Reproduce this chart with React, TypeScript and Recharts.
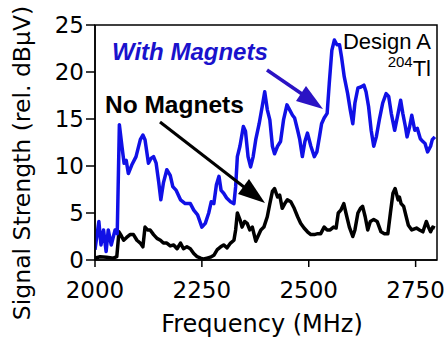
import React from 'react';
import { LineChart, Line, XAxis, YAxis, ReferenceArea } from 'recharts';

// "With Magnets" series (blue)
const withFreq = [
  2000, 2009, 2014, 2020, 2026, 2031, 2038, 2047, 2052, 2057, 2063, 2068, 2073, 2078, 2086, 2096,
  2106, 2112, 2117, 2125, 2131, 2137, 2143, 2149, 2154, 2160, 2168, 2176, 2182, 2190, 2200, 2211,
  2223, 2231, 2240, 2250, 2258, 2266, 2272, 2278, 2284, 2290, 2295, 2301, 2308, 2317, 2325, 2329,
  2333, 2339, 2347, 2352, 2358, 2364, 2370, 2376, 2384, 2391, 2397, 2403, 2409, 2415, 2420, 2427,
  2434, 2441, 2449, 2455, 2462, 2467, 2474, 2479, 2485, 2491, 2497, 2505, 2513, 2519, 2525, 2530,
  2536, 2543, 2548, 2554, 2560, 2566, 2572, 2577, 2583, 2591, 2597, 2603, 2608, 2615, 2622, 2629,
  2634, 2640, 2646, 2652, 2658, 2665, 2673, 2681, 2687, 2693, 2701, 2709, 2715, 2720, 2726, 2730,
  2736, 2741, 2748, 2754, 2761, 2767, 2772, 2778, 2785, 2789, 2795,
];
const withVals = [
  1.1, 4.1, 1.6, 3.2, 0.9, 3.2, 1.6, 3.2, 2.8, 14.4, 12.1, 10.3, 10.6, 9.2, 10.1, 11.0,
  12.8, 13.3, 12.8, 10.3, 10.8, 11.0, 10.3, 8.3, 6.4, 8.2, 9.6, 9.0, 7.8, 7.4, 6.4, 6.0,
  6.0, 5.3, 4.8, 3.5, 3.9, 5.0, 6.2, 6.0, 8.0, 8.9, 7.4, 7.1, 6.6, 6.2, 6.0, 7.8,
  11.0, 12.1, 14.2, 13.7, 11.0, 9.9, 11.0, 12.8, 14.5, 16.3, 17.9, 16.0, 14.9, 12.1, 11.3, 12.1,
  12.6, 14.9, 16.5, 16.0, 15.4, 15.1, 13.8, 12.8, 11.0, 12.6, 13.5, 12.1, 11.0, 11.5, 13.1, 14.5,
  15.1, 15.6, 18.8, 22.3, 23.4, 22.9, 22.9, 21.5, 19.5, 17.7, 16.0, 14.5, 16.7, 18.3, 18.4, 18.6,
  17.9, 16.3, 13.8, 12.1, 13.1, 14.9, 16.7, 17.7, 17.4, 15.6, 13.8, 15.6, 17.0, 15.6, 14.2, 13.1,
  14.2, 15.4, 13.8, 14.0, 12.9, 12.6, 12.4, 11.5, 12.1, 12.8, 13.1,
];

// "No Magnets" series (black)
const noFreq = [
  2000, 2012, 2027, 2043, 2051, 2056, 2060, 2067, 2074, 2082, 2090, 2098, 2106, 2112, 2117, 2123,
  2129, 2137, 2145, 2153, 2160, 2168, 2176, 2184, 2192, 2200, 2207, 2215, 2223, 2231, 2239, 2247,
  2254, 2262, 2270, 2278, 2286, 2294, 2301, 2309, 2317, 2325, 2329, 2333, 2339, 2344, 2350, 2356,
  2362, 2368, 2376, 2381, 2388, 2395, 2403, 2409, 2415, 2420, 2427, 2432, 2438, 2444, 2450, 2458,
  2466, 2474, 2481, 2489, 2497, 2505, 2513, 2521, 2528, 2536, 2543, 2550, 2558, 2564, 2569, 2575,
  2582, 2587, 2595, 2603, 2608, 2615, 2621, 2626, 2632, 2638, 2644, 2652, 2660, 2669, 2677, 2685,
  2691, 2697, 2702, 2709, 2712, 2716, 2722, 2728, 2733, 2741, 2752, 2759, 2767, 2775, 2780, 2785,
  2790, 2795,
];
const noVals = [
  0.2, 0.35, 0.3, 0.2, 0.35, 3.0, 2.7, 2.1, 2.4, 2.7, 2.7, 2.1, 1.8, 1.4, 3.5, 3.2,
  3.2, 2.7, 2.3, 2.1, 1.8, 1.8, 1.5, 1.6, 1.2, 1.8, 1.2, 1.4, 1.2, 0.7, 0.35, 0.2,
  0.1, 0.2, 0.3, 0.5, 1.1, 1.4, 1.6, 1.3, 1.8, 2.1, 3.2, 5.0, 4.3, 3.5, 4.1, 3.9,
  3.2, 3.5, 2.0, 2.5, 3.2, 3.5, 4.6, 6.0, 7.3, 7.6, 6.7, 6.9, 5.5, 6.0, 6.4, 6.2,
  5.5, 4.6, 3.9, 3.4, 3.0, 2.7, 2.7, 2.8, 2.8, 3.5, 3.2, 3.2, 3.5, 3.4, 5.0, 5.3,
  6.0, 5.0, 3.5, 2.5, 3.2, 5.0, 5.5, 5.7, 4.6, 3.2, 4.1, 4.3, 4.1, 3.0, 2.8, 2.8,
  5.0, 7.1, 7.6, 6.4, 6.7, 6.0, 5.7, 4.6, 3.7, 3.2, 3.4, 3.2, 3.0, 4.1, 3.5, 3.0,
  3.5, 3.4,
];

const xTicks = [2000, 2250, 2500, 2750];
const yTicks = [0, 5, 10, 15, 20, 25];

const withData = withFreq.map((f, i) => ({ f, v: withVals[i] }));
const noData = noFreq.map((f, i) => ({ f, v: noVals[i] }));

const tickFont = { fill: '#000', fontSize: 23, fontFamily: 'DejaVu Sans' };

export default function App() {
  return (
    <div style={{ position: 'relative', width: 446, height: 339 }}>
      <style>{'body{margin:0}'}</style>
      <LineChart width={446} height={339} margin={{ top: 25, right: 9, bottom: 0, left: 0 }}>
        <XAxis
          type="number"
          dataKey="f"
          domain={[2000, 2800]}
          ticks={xTicks}
          allowDataOverflow
          height={79}
          tickSize={7}
          tickMargin={15}
          tick={tickFont}
          axisLine={{ stroke: '#000', strokeWidth: 1.5 }}
          tickLine={{ stroke: '#000', strokeWidth: 1.5 }}
        />
        <YAxis
          type="number"
          domain={[0, 25]}
          ticks={yTicks}
          width={95}
          tickSize={9}
          tickMargin={2}
          tick={tickFont}
          axisLine={{ stroke: '#000', strokeWidth: 1.5 }}
          tickLine={{ stroke: '#000', strokeWidth: 1.5 }}
        />
        <ReferenceArea x1={2000} x2={2800} y1={0} y2={25} fill="none" fillOpacity={0} stroke="#000" strokeWidth={1.5} />
        <Line data={noData} dataKey="v" type="linear" stroke="#000" strokeWidth={3.5} dot={false} strokeLinejoin="round" isAnimationActive={false} />
        <Line data={withData} dataKey="v" type="linear" stroke="#1010e6" strokeWidth={3.5} dot={false} strokeLinejoin="round" isAnimationActive={false} />
      </LineChart>
      <svg width={446} height={339} style={{ position: 'absolute', left: 0, top: 0, pointerEvents: 'none' }}>
        <text x={30} y={163} textAnchor="middle" transform="rotate(-90 30 163)" fontSize={23.5} fontFamily="DejaVu Sans" fill="#000">
          Signal Strength (rel. dBμV)
        </text>
        <text x={262} y={332} textAnchor="middle" fontSize={24} fontFamily="DejaVu Sans" fill="#000">
          Frequency (MHz)
        </text>
        <text x={112} y={60} fontSize={24} fontWeight="bold" fontStyle="italic" fontFamily="Liberation Sans" fill="#1a12cc">
          With Magnets
        </text>
        <text x={105} y={113} fontSize={24.5} fontWeight="bold" fontFamily="Liberation Sans" fill="#000">
          No Magnets
        </text>
        <text x={431} y={49} textAnchor="end" fontSize={22} fontFamily="Liberation Sans" fill="#000">
          Design A
        </text>
        <text x={431} y={76} textAnchor="end" fontSize={22} fontFamily="Liberation Sans" fill="#000">
          <tspan fontSize={15} dy={-9}>204</tspan>
          <tspan dy={9}>Tl</tspan>
        </text>
        <line x1={160} y1={122} x2={244} y2={187} stroke="#000" strokeWidth={3} />
        <polygon points="265,203 238,194 249,179" fill="#000" />
        <line x1={267} y1={70} x2={302} y2={94} stroke="#2b13c4" strokeWidth={3.5} />
        <polygon points="323,109 296,101 306,86" fill="#2b13c4" />
      </svg>
    </div>
  );
}
